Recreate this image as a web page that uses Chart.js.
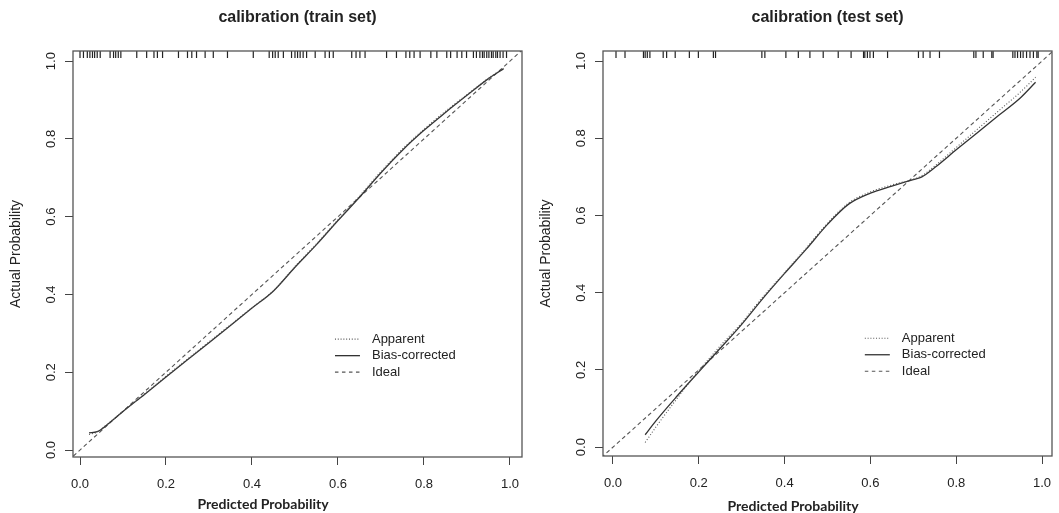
<!DOCTYPE html>
<html>
<head>
<meta charset="utf-8">
<script src="https://cdn.jsdelivr.net/npm/chart.js@4/dist/chart.umd.min.js"></script>
<style>
  body { margin: 0; background: #fff; }
  #wrap { display: flex; width: 1059px; height: 513px; }
  canvas { display: block; }
</style>
</head>
<body>
<div id="wrap">
  <canvas id="train-chart" width="530" height="513"></canvas>
  <canvas id="test-chart" width="529" height="513"></canvas>
</div>
<script>
// tick labels shared by both panels
const tickValues = [0, 0.2, 0.4, 0.6, 0.8, 1.0];

// train set: smoothed calibration curves
const trainX = [0.021, 0.04, 0.06, 0.1, 0.15, 0.2, 0.25, 0.3, 0.35, 0.4, 0.45, 0.5, 0.55, 0.6, 0.65, 0.7, 0.75, 0.8, 0.85, 0.9, 0.95, 0.985];
const trainApparent = [0.040, 0.046, 0.063, 0.100, 0.144, 0.190, 0.234, 0.278, 0.322, 0.366, 0.410, 0.472, 0.530, 0.592, 0.653, 0.716, 0.774, 0.825, 0.871, 0.914, 0.956, 0.982];
const trainBias = [0.044, 0.047, 0.062, 0.099, 0.143, 0.188, 0.232, 0.276, 0.320, 0.365, 0.409, 0.470, 0.528, 0.590, 0.650, 0.713, 0.771, 0.822, 0.868, 0.912, 0.955, 0.980];
// train set: predicted probabilities shown as the rug on top
const trainRug = [0.0, 0.008, 0.017, 0.023, 0.029, 0.034, 0.040, 0.047, 0.070, 0.078, 0.083, 0.089, 0.095,
  0.132, 0.155, 0.172, 0.180, 0.192, 0.229, 0.250, 0.260, 0.271, 0.291, 0.310, 0.343, 0.403,
  0.440, 0.448, 0.454, 0.461, 0.473, 0.492, 0.500, 0.506, 0.512, 0.519, 0.527, 0.547, 0.570, 0.580, 0.589,
  0.632, 0.642, 0.651, 0.663, 0.713, 0.736, 0.758, 0.767, 0.777, 0.791, 0.816, 0.830, 0.853, 0.862, 0.877,
  0.888, 0.899, 0.915, 0.922, 0.930, 0.936, 0.940, 0.946, 0.951, 0.957, 0.961, 0.967, 0.971, 0.977, 0.984, 0.992];

// test set
const testX = [0.075, 0.1, 0.15, 0.2, 0.25, 0.3, 0.35, 0.4, 0.45, 0.5, 0.55, 0.6, 0.65, 0.7, 0.72, 0.75, 0.8, 0.85, 0.9, 0.95, 0.985];
const testApparent = [0.012, 0.052, 0.127, 0.198, 0.262, 0.322, 0.390, 0.452, 0.515, 0.580, 0.633, 0.661, 0.679, 0.694, 0.703, 0.728, 0.776, 0.824, 0.872, 0.920, 0.958];
const testBias = [0.032, 0.068, 0.133, 0.195, 0.256, 0.318, 0.386, 0.450, 0.512, 0.577, 0.630, 0.658, 0.676, 0.693, 0.700, 0.724, 0.770, 0.815, 0.860, 0.905, 0.945];
const testRug = [0.007, 0.028, 0.071, 0.075, 0.080, 0.086, 0.117, 0.125, 0.145, 0.178, 0.199, 0.234, 0.239,
  0.347, 0.354, 0.403, 0.432, 0.459, 0.490, 0.525, 0.555, 0.584, 0.587, 0.593, 0.599, 0.607, 0.640,
  0.712, 0.723, 0.739, 0.761, 0.841, 0.846, 0.863, 0.883, 0.886, 0.932, 0.937, 0.943, 0.950, 0.956,
  0.964, 0.972, 0.980, 0.988, 0.991];

// ideal diagonal
const idealX = [-0.1, 1.1];

function pts(xs, ys) {
  return xs.map((v, i) => ({x: v, y: ys[i]}));
}

const legendInside = {
  id: 'legendInside',
  afterDatasetsDraw(chart, args, opts) {
    const ctx = chart.ctx;
    const left = chart.scales.x.getPixelForValue(opts.x);
    const top = chart.scales.y.getPixelForValue(opts.y);
    ctx.save();
    ctx.font = '13px "Liberation Sans", Arial, sans-serif';
    ctx.textBaseline = 'middle';
    ctx.fillStyle = '#222';
    chart.data.datasets.filter(d => d.inLegend).forEach((d, i) => {
      const yy = top + i * 16.5;
      ctx.beginPath();
      ctx.setLineDash(d.legendDash || []);
      ctx.strokeStyle = d.borderColor;
      ctx.lineWidth = d.borderWidth;
      ctx.moveTo(left, yy);
      ctx.lineTo(left + 25, yy);
      ctx.stroke();
      ctx.setLineDash([]);
      ctx.fillText(d.label, left + 37, yy);
    });
    ctx.restore();
  }
};

const frame = {
  id: 'frame',
  afterDraw(chart) {
    const {ctx, chartArea: a} = chart;
    ctx.save();
    ctx.strokeStyle = '#555';
    ctx.lineWidth = 1.3;
    ctx.strokeRect(a.left, a.top, a.right - a.left, a.bottom - a.top);
    ctx.restore();
  }
};

function makeChart(id, title, xs, app, bias, rug, xr, yr, opt) {
  const datasets = [
    {
      label: 'Apparent', inLegend: true,
      data: pts(xs, app),
      borderColor: '#555', borderWidth: 1.1, borderDash: [1, 2], legendDash: [1, 1.8],
      showLine: true, pointRadius: 0, cubicInterpolationMode: 'monotone'
    },
    {
      label: 'Bias-corrected', inLegend: true,
      data: pts(xs, bias),
      borderColor: '#333', borderWidth: 1.3,
      showLine: true, pointRadius: 0, cubicInterpolationMode: 'monotone'
    },
    {
      label: 'Ideal', inLegend: true,
      data: pts(idealX, idealX),
      borderColor: '#555', borderWidth: 1.1, borderDash: [4, 3], legendDash: [3.5, 3.5],
      showLine: true, pointRadius: 0, clip: 0
    },
    {
      label: 'rug',
      data: rug.map(v => ({x: v, y: yr[1]})),
      showLine: false, pointStyle: 'line', rotation: 90, pointRadius: 7,
      pointBorderWidth: 1.2, borderColor: '#222', clip: 0
    }
  ];

  return new Chart(document.getElementById(id), {
    type: 'scatter',
    data: { datasets: datasets },
    options: {
      responsive: false,
      animation: false,
      layout: { autoPadding: false, padding: { left: 4, right: opt.padRight, top: 0, bottom: 0 } },
      plugins: {
        legend: { display: false },
        tooltip: { enabled: false },
        title: {
          display: true, text: title, fullSize: false, color: '#222',
          font: { family: '"Liberation Sans", Arial, sans-serif', size: 16, weight: 'bold', lineHeight: 1.2 },
          padding: { top: 8, bottom: 23.8 }
        },
        subtitle: {
          display: true, text: 'Predicted Probability', position: 'bottom', color: '#222',
          font: { family: 'Lato, "Open Sans", sans-serif', size: 14, weight: 'bold', lineHeight: 1 },
          padding: { top: opt.subTop, bottom: opt.subBottom }
        },
        legendInside: { x: opt.legX, y: opt.legY }
      },
      scales: {
        x: {
          type: 'linear', min: xr[0], max: xr[1],
          afterBuildTicks: s => { s.ticks = tickValues.map(v => ({value: v})); },
          afterFit: s => { s.height = opt.xHeight; s.paddingLeft = 0; s.paddingRight = 0; },
          grid: { display: true, drawOnChartArea: false, drawTicks: true, tickLength: 8, color: '#444' },
          border: { display: false },
          ticks: {
            color: '#222', padding: 12, maxRotation: 0,
            font: { family: '"Liberation Sans", Arial, sans-serif', size: 13 },
            callback: v => v.toFixed(1)
          }
        },
        y: {
          type: 'linear', min: yr[0], max: yr[1],
          afterBuildTicks: s => { s.ticks = tickValues.map(v => ({value: v})); },
          afterFit: s => { s.width = 69; s.paddingTop = 0; s.paddingBottom = 0; },
          grid: { display: true, drawOnChartArea: false, drawTicks: true, tickLength: 8, color: '#444' },
          border: { display: false },
          ticks: {
            color: '#222', padding: 5, minRotation: 90, maxRotation: 90, crossAlign: 'center',
            font: { family: '"Liberation Sans", Arial, sans-serif', size: 13 },
            callback: v => v.toFixed(1)
          },
          title: {
            display: true, text: 'Actual Probability', color: '#222',
            font: { family: '"Liberation Sans", Arial, sans-serif', size: 14 },
            padding: { top: 4, bottom: 0 }
          }
        }
      }
    },
    plugins: [legendInside, frame]
  });
}

makeChart('train-chart', 'calibration (train set)', trainX, trainApparent, trainBias, trainRug,
  [-0.0163, 1.028], [-0.018, 1.026],
  { padRight: 8, xHeight: 36, subTop: 4, subBottom: 2, legX: 0.593, legY: 0.285 });

makeChart('test-chart', 'calibration (test set)', testX, testApparent, testBias, testRug,
  [-0.0233, 1.0233], [-0.023, 1.026],
  { padRight: 7, xHeight: 34, subTop: 9, subBottom: 0, legX: 0.587, legY: 0.282 });
</script>
</body>
</html>
